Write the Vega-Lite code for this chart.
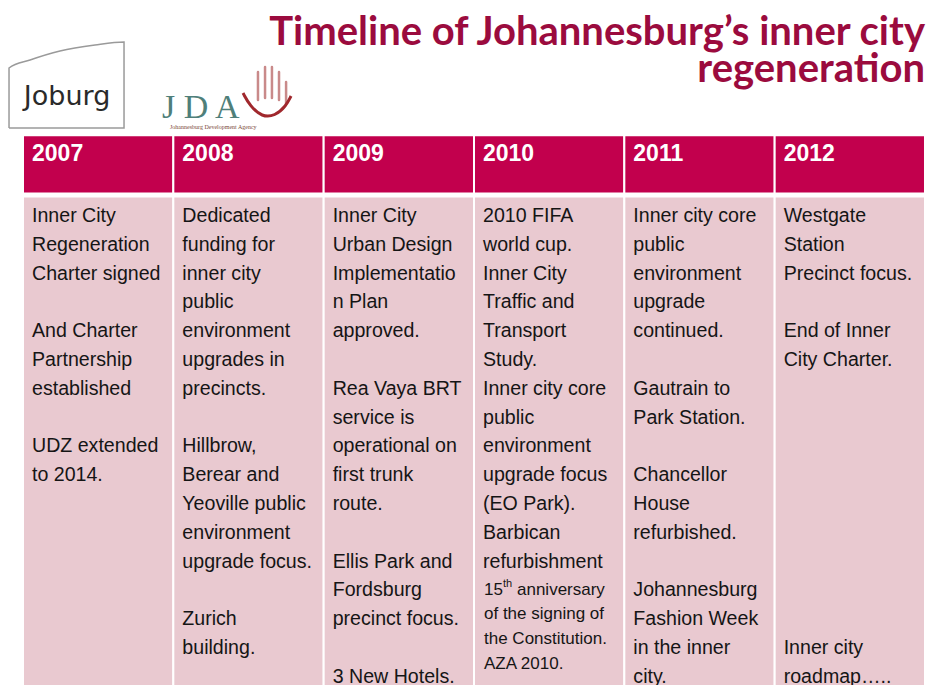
{
  "$schema": "https://vega.github.io/schema/vega-lite/v6.json",
  "width": 928,
  "height": 685,
  "autosize": {"type": "fit", "contains": "padding"},
  "padding": 0,
  "background": "white",
  "config": {"view": {"stroke": null}},
  "datasets": {
    "cells": [
      {"col": 0, "col_end": 1, "year": "2007"},
      {"col": 1, "col_end": 2, "year": "2008"},
      {"col": 2, "col_end": 3, "year": "2009"},
      {"col": 3, "col_end": 4, "year": "2010"},
      {"col": 4, "col_end": 5, "year": "2011"},
      {"col": 5, "col_end": 6, "year": "2012"}
    ],
    "lines": [
      {"col": 0, "line": 0, "text": "Inner City"},
      {"col": 0, "line": 1, "text": "Regeneration"},
      {"col": 0, "line": 2, "text": "Charter signed"},
      {"col": 0, "line": 4, "text": "And Charter"},
      {"col": 0, "line": 5, "text": "Partnership"},
      {"col": 0, "line": 6, "text": "established"},
      {"col": 0, "line": 8, "text": "UDZ extended"},
      {"col": 0, "line": 9, "text": "to 2014."},
      {"col": 1, "line": 0, "text": "Dedicated"},
      {"col": 1, "line": 1, "text": "funding for"},
      {"col": 1, "line": 2, "text": "inner city"},
      {"col": 1, "line": 3, "text": "public"},
      {"col": 1, "line": 4, "text": "environment"},
      {"col": 1, "line": 5, "text": "upgrades in"},
      {"col": 1, "line": 6, "text": "precincts."},
      {"col": 1, "line": 8, "text": "Hillbrow,"},
      {"col": 1, "line": 9, "text": "Berear and"},
      {"col": 1, "line": 10, "text": "Yeoville public"},
      {"col": 1, "line": 11, "text": "environment"},
      {"col": 1, "line": 12, "text": "upgrade focus."},
      {"col": 1, "line": 14, "text": "Zurich"},
      {"col": 1, "line": 15, "text": "building."},
      {"col": 2, "line": 0, "text": "Inner City"},
      {"col": 2, "line": 1, "text": "Urban Design"},
      {"col": 2, "line": 2, "text": "Implementatio"},
      {"col": 2, "line": 3, "text": "n Plan"},
      {"col": 2, "line": 4, "text": "approved."},
      {"col": 2, "line": 6, "text": "Rea Vaya BRT"},
      {"col": 2, "line": 7, "text": "service is"},
      {"col": 2, "line": 8, "text": "operational on"},
      {"col": 2, "line": 9, "text": "first trunk"},
      {"col": 2, "line": 10, "text": "route."},
      {"col": 2, "line": 12, "text": "Ellis Park and"},
      {"col": 2, "line": 13, "text": "Fordsburg"},
      {"col": 2, "line": 14, "text": "precinct focus."},
      {"col": 2, "line": 16, "text": "3 New Hotels."},
      {"col": 3, "line": 0, "text": "2010 FIFA"},
      {"col": 3, "line": 1, "text": "world cup."},
      {"col": 3, "line": 2, "text": "Inner City"},
      {"col": 3, "line": 3, "text": "Traffic and"},
      {"col": 3, "line": 4, "text": "Transport"},
      {"col": 3, "line": 5, "text": "Study."},
      {"col": 3, "line": 6, "text": "Inner city core"},
      {"col": 3, "line": 7, "text": "public"},
      {"col": 3, "line": 8, "text": "environment"},
      {"col": 3, "line": 9, "text": "upgrade focus"},
      {"col": 3, "line": 10, "text": "(EO Park)."},
      {"col": 3, "line": 11, "text": "Barbican"},
      {"col": 3, "line": 12, "text": "refurbishment"},
      {"col": 4, "line": 0, "text": "Inner city core"},
      {"col": 4, "line": 1, "text": "public"},
      {"col": 4, "line": 2, "text": "environment"},
      {"col": 4, "line": 3, "text": "upgrade"},
      {"col": 4, "line": 4, "text": "continued."},
      {"col": 4, "line": 6, "text": "Gautrain to"},
      {"col": 4, "line": 7, "text": "Park Station."},
      {"col": 4, "line": 9, "text": "Chancellor"},
      {"col": 4, "line": 10, "text": "House"},
      {"col": 4, "line": 11, "text": "refurbished."},
      {"col": 4, "line": 13, "text": "Johannesburg"},
      {"col": 4, "line": 14, "text": "Fashion Week"},
      {"col": 4, "line": 15, "text": "in the inner"},
      {"col": 4, "line": 16, "text": "city."},
      {"col": 5, "line": 0, "text": "Westgate"},
      {"col": 5, "line": 1, "text": "Station"},
      {"col": 5, "line": 2, "text": "Precinct focus."},
      {"col": 5, "line": 4, "text": "End of Inner"},
      {"col": 5, "line": 5, "text": "City Charter."},
      {"col": 5, "line": 15, "text": "Inner city"},
      {"col": 5, "line": 16, "text": "roadmap….."}
    ],
    "notes": [
      {"col": 3, "line": 13.82, "text": "of the signing of"},
      {"col": 3, "line": 14.69, "text": "the Constitution."},
      {"col": 3, "line": 15.56, "text": "AZA 2010."}
    ],
    "anniv": [
      {"col": 3, "line": 12.99, "num": "15", "sup": "th", "rest": "anniversary"}
    ],
    "title": [
      {"line": -6.35, "text": "Timeline of Johannesburg’s inner city"},
      {"line": -5.07, "text": "regeneration"}
    ],
    "joburg_box": [
      {"o": 0, "x": -0.093, "y": -3.056},
      {"o": 1, "x": -0.093, "y": -5.139},
      {"o": 2, "x": 0.047, "y": -5.417},
      {"o": 3, "x": 0.246, "y": -5.729},
      {"o": 4, "x": 0.479, "y": -5.938},
      {"o": 5, "x": 0.672, "y": -6.042},
      {"o": 6, "x": 0.672, "y": -3.056},
      {"o": 7, "x": -0.093, "y": -3.056}
    ],
    "hand_curve": [
      {"o": 0, "x": 1.4635, "y": -4.271},
      {"o": 1, "x": 1.51, "y": -3.819},
      {"o": 2, "x": 1.59, "y": -3.4375},
      {"o": 3, "x": 1.676, "y": -3.472},
      {"o": 4, "x": 1.75, "y": -3.819},
      {"o": 5, "x": 1.783, "y": -4.167}
    ],
    "fingers": [
      {"x": 1.563, "y": -4.03, "y2": -5.0},
      {"x": 1.61, "y": -4.1, "y2": -5.17},
      {"x": 1.656, "y": -4.1, "y2": -5.17},
      {"x": 1.703, "y": -4.03, "y2": -5.0},
      {"x": 1.75, "y": -3.9, "y2": -4.65}
    ]
  },
  "layer": [
    {
      "data": {"name": "cells"},
      "mark": {"type": "rect", "color": "#C2004D", "stroke": "white", "strokeWidth": 2},
      "encoding": {
        "x": {"field": "col", "type": "quantitative", "scale": {"domain": [-0.153, 6.02], "nice": false, "zero": false}, "axis": null},
        "x2": {"field": "col_end"},
        "y": {"datum": -2.8, "type": "quantitative", "scale": {"domain": [-7.5, 16.285], "nice": false, "zero": false, "reverse": true}, "axis": null},
        "y2": {"datum": -0.78}
      }
    },
    {
      "data": {"name": "cells"},
      "mark": {"type": "rect", "color": "#E9C9D0", "stroke": "white", "strokeWidth": 2, "clip": true},
      "encoding": {
        "x": {"field": "col", "type": "quantitative"},
        "x2": {"field": "col_end"},
        "y": {"datum": -0.68, "type": "quantitative"},
        "y2": {"datum": 16.6}
      }
    },
    {
      "data": {"name": "cells"},
      "mark": {"type": "text", "align": "left", "baseline": "middle", "dx": 9, "font": "Liberation Sans", "fontWeight": "bold", "fontSize": 23, "color": "white"},
      "encoding": {
        "x": {"field": "col", "type": "quantitative"},
        "y": {"datum": -2.15, "type": "quantitative"},
        "text": {"field": "year"}
      }
    },
    {
      "data": {"name": "lines"},
      "mark": {"type": "text", "align": "left", "baseline": "middle", "dx": 9, "font": "Liberation Sans", "fontSize": 19.6, "color": "#151515", "clip": true},
      "encoding": {
        "x": {"field": "col", "type": "quantitative"},
        "y": {"field": "line", "type": "quantitative"},
        "text": {"field": "text"}
      }
    },
    {
      "data": {"name": "notes"},
      "mark": {"type": "text", "align": "left", "baseline": "middle", "dx": 10, "font": "Liberation Sans", "fontSize": 17, "color": "#151515"},
      "encoding": {
        "x": {"field": "col", "type": "quantitative"},
        "y": {"field": "line", "type": "quantitative"},
        "text": {"field": "text"}
      }
    },
    {
      "data": {"name": "anniv"},
      "mark": {"type": "text", "align": "left", "baseline": "middle", "dx": 10, "font": "Liberation Sans", "fontSize": 17, "color": "#151515"},
      "encoding": {
        "x": {"field": "col", "type": "quantitative"},
        "y": {"field": "line", "type": "quantitative"},
        "text": {"field": "num"}
      }
    },
    {
      "data": {"name": "anniv"},
      "mark": {"type": "text", "align": "left", "baseline": "middle", "dx": 29, "dy": -6, "font": "Liberation Sans", "fontSize": 11, "color": "#151515"},
      "encoding": {
        "x": {"field": "col", "type": "quantitative"},
        "y": {"field": "line", "type": "quantitative"},
        "text": {"field": "sup"}
      }
    },
    {
      "data": {"name": "anniv"},
      "mark": {"type": "text", "align": "left", "baseline": "middle", "dx": 43, "font": "Liberation Sans", "fontSize": 17, "color": "#151515"},
      "encoding": {
        "x": {"field": "col", "type": "quantitative"},
        "y": {"field": "line", "type": "quantitative"},
        "text": {"field": "rest"}
      }
    },
    {
      "data": {"name": "title"},
      "mark": {"type": "text", "align": "right", "baseline": "middle", "font": "Lato", "fontWeight": "bold", "fontSize": 40, "color": "#9B0B3E"},
      "encoding": {
        "x": {"datum": 6.0, "type": "quantitative"},
        "y": {"field": "line", "type": "quantitative"},
        "text": {"field": "text"}
      }
    },
    {
      "data": {"name": "joburg_box"},
      "mark": {"type": "line", "color": "#9a9a9a", "strokeWidth": 1.5, "interpolate": "monotone"},
      "encoding": {
        "x": {"field": "x", "type": "quantitative"},
        "y": {"field": "y", "type": "quantitative"},
        "order": {"field": "o"}
      }
    },
    {
      "data": {"values": [{"name": "Joburg"}]},
      "mark": {"type": "text", "align": "center", "baseline": "middle", "font": "DejaVu Sans", "fontSize": 27, "color": "#2a2a2a"},
      "encoding": {
        "x": {"datum": 0.293, "type": "quantitative"},
        "y": {"datum": -4.13, "type": "quantitative"},
        "text": {"field": "name"}
      }
    },
    {
      "data": {"values": [{"name": "J D A"}]},
      "mark": {"type": "text", "align": "left", "baseline": "middle", "font": "Liberation Serif", "fontSize": 34, "color": "#4F7F7A"},
      "encoding": {
        "x": {"datum": 0.925, "type": "quantitative"},
        "y": {"datum": -3.75, "type": "quantitative"},
        "text": {"field": "name"}
      }
    },
    {
      "data": {"values": [{"name": "Johannesburg Development Agency"}]},
      "mark": {"type": "text", "align": "left", "baseline": "middle", "font": "Liberation Serif", "fontSize": 6, "color": "#7a4a3a"},
      "encoding": {
        "x": {"datum": 0.978, "type": "quantitative"},
        "y": {"datum": -3.1, "type": "quantitative"},
        "text": {"field": "name"}
      }
    },
    {
      "data": {"name": "fingers"},
      "mark": {"type": "rule", "color": "#C98A8A", "strokeWidth": 2.5, "strokeCap": "round"},
      "encoding": {
        "x": {"field": "x", "type": "quantitative"},
        "y": {"field": "y", "type": "quantitative"},
        "y2": {"field": "y2"}
      }
    },
    {
      "data": {"name": "hand_curve"},
      "mark": {"type": "line", "color": "#A0282D", "strokeWidth": 3, "interpolate": "basis"},
      "encoding": {
        "x": {"field": "x", "type": "quantitative"},
        "y": {"field": "y", "type": "quantitative"},
        "order": {"field": "o"}
      }
    }
  ]
}
